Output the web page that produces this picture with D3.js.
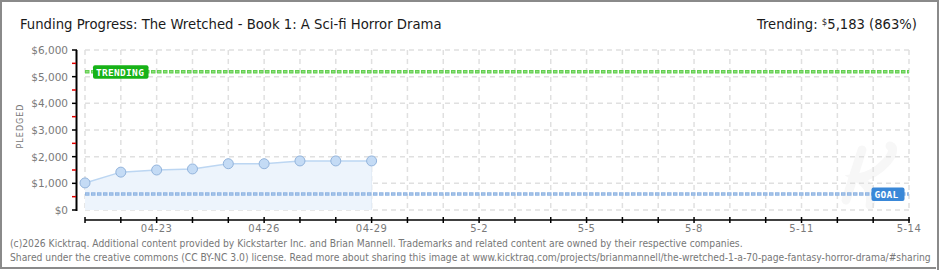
<!DOCTYPE html>
<html>
<head>
<meta charset="utf-8">
<script src="https://cdn.jsdelivr.net/npm/d3@7"></script>
<style>
  html, body { margin: 0; padding: 0; background: #fff; }
  svg { display: block; }
</style>
</head>
<body>
<svg id="chart" width="940" height="270"></svg>
<script>
// ---------- data ----------
const titleText = "Funding Progress: The Wretched - Book 1: A Sci-fi Horror Drama";
const trendingLabel = "Trending:";
const trendingValueText = "5,183 (863%)";
const dayLabels = ["04-21","04-22","04-23","04-24","04-25","04-26","04-27","04-28","04-29"];
const pledged = [1015, 1420, 1500, 1540, 1735, 1735, 1840, 1840, 1840];
const goal = 600;
const trending = 5183;
const domainStart = "04-21";
const domainEnd = "05-14";
const tickLabels = ["04-23","04-26","04-29","5-2","5-5","5-8","5-11","5-14"];
const tickDates = ["04-23","04-26","04-29","05-02","05-05","05-08","05-11","05-14"];
const yTicks = [0, 1000, 2000, 3000, 4000, 5000, 6000];
const yMinor = [500, 1500, 2500, 3500, 4500, 5500];
const footer1 = "(c)2026 Kicktraq. Additional content provided by Kickstarter Inc. and Brian Mannell. Trademarks and related content are owned by their respective companies.";
const footer2 = "Shared under the creative commons (CC BY-NC 3.0) license. Read more about sharing this image at www.kicktraq.com/projects/brianmannell/the-wretched-1-a-70-page-fantasy-horror-drama/#sharing";

// ---------- setup ----------
const svg = d3.select("#chart");
const parse = s => new Date(Date.UTC(2017, +s.slice(0,2) - 1, +s.slice(3,5)));
const x = d3.scaleUtc().domain([parse(domainStart), parse(domainEnd)]).range([85, 909]);
const y = d3.scaleLinear().domain([0, 6000]).range([210, 50]);
const allDays = d3.utcDay.range(parse(domainStart), d3.utcDay.offset(parse(domainEnd), 1));
const font = "'Liberation Sans Narrow', 'DejaVu Sans Condensed', 'DejaVu Sans', sans-serif";

// border
svg.append("rect").attr("x", 1).attr("y", 1).attr("width", 937).attr("height", 267)
  .attr("fill", "#fff").attr("stroke", "#8a8a8a").attr("stroke-width", 2);

// watermark (faint K drawn as strokes)
svg.append("path")
  .attr("d", "M862,150 L846,200 M890,146 C900,150 880,175 858,178 C870,185 872,195 870,205")
  .attr("fill", "none").attr("stroke", "#f7f7f7").attr("stroke-width", 9).attr("stroke-linecap", "round");

// grid
const grid = svg.append("g").attr("stroke", "#e0e0e0").attr("stroke-width", 1.5).attr("stroke-dasharray", "5,4");
grid.selectAll("line.h").data(yTicks).join("line")
  .attr("x1", x.range()[0]).attr("x2", x.range()[1])
  .attr("y1", d => y(d)).attr("y2", d => y(d));
grid.selectAll("line.v").data(allDays).join("line").attr("class", "v")
  .attr("x1", d => x(d)).attr("x2", d => x(d))
  .attr("y1", y(6000)).attr("y2", y(0));

// area + line
const pts = dayLabels.map((d, i) => ({ date: parse(d), v: pledged[i] }));
svg.append("path").datum(pts)
  .attr("fill", "#edf4fc")
  .attr("d", d3.area().x(d => x(d.date)).y0(y(0)).y1(d => y(d.v)));
svg.append("path").datum(pts)
  .attr("fill", "none").attr("stroke", "#bcd6f2").attr("stroke-width", 1.5)
  .attr("d", d3.line().x(d => x(d.date)).y(d => y(d.v)));
svg.append("line")
  .attr("x1", x(pts[pts.length-1].date)).attr("x2", x(pts[pts.length-1].date))
  .attr("y1", y(pts[pts.length-1].v)).attr("y2", y(0))
  .attr("stroke", "#e3ecf7").attr("stroke-width", 1);

// goal & trending lines
function refLine(val, col, light) {
  svg.append("line").attr("x1", x.range()[0]).attr("x2", x.range()[1])
    .attr("y1", y(val)).attr("y2", y(val))
    .attr("stroke", col).attr("stroke-width", 3.5).attr("stroke-dasharray", "4.5,1.5");
  svg.append("line").attr("x1", x.range()[0]).attr("x2", x.range()[1])
    .attr("y1", y(val)).attr("y2", y(val))
    .attr("stroke", light).attr("stroke-width", 1).attr("stroke-dasharray", "2.5,3.5")
    .attr("stroke-dashoffset", -1);
}
refLine(goal, "#8fb4e2", "#b5cfee");
refLine(trending, "#62cf4f", "#9fe393");

// points
svg.selectAll("circle.pt").data(pts).join("circle")
  .attr("cx", d => x(d.date)).attr("cy", d => y(d.v)).attr("r", 5)
  .attr("fill", "#c4dbf5").attr("stroke", "#93b4dc").attr("stroke-width", 1);

// labels on ref lines
function tag(cx0, cx1, val, fill, txt) {
  const yy = y(val);
  svg.append("rect").attr("x", cx0).attr("y", yy - 6.5).attr("width", cx1 - cx0).attr("height", 13.5)
    .attr("rx", 2).attr("fill", fill);
  svg.append("text").attr("x", cx0 + 3).attr("y", yy + 3.8)
    .attr("font-family", "'DejaVu Sans Mono', monospace").attr("font-weight", "bold")
    .attr("font-size", 9.5).attr("fill", "#fff").attr("letter-spacing", 0.3).text(txt);
}
tag(93, 148.5, trending, "#17b217", "TRENDING");
tag(871.5, 904.5, goal, "#3a88d8", "GOAL");

// y axis
const yAxisG = svg.append("g");
yAxisG.append("line").attr("x1", 76.5).attr("x2", 76.5).attr("y1", y(6000)).attr("y2", y(0) + 1)
  .attr("stroke", "#000").attr("stroke-width", 2);
yAxisG.selectAll("line.maj").data(yTicks).join("line").attr("class", "maj")
  .attr("x1", 72).attr("x2", 77).attr("y1", d => y(d)).attr("y2", d => y(d))
  .attr("stroke", "#000").attr("stroke-width", 1.5);
yAxisG.selectAll("line.min").data(yMinor).join("line").attr("class", "min")
  .attr("x1", 72).attr("x2", 76).attr("y1", d => y(d)).attr("y2", d => y(d))
  .attr("stroke", "#e00000").attr("stroke-width", 1.5);
yAxisG.selectAll("text").data(yTicks).join("text")
  .attr("x", 68).attr("y", d => y(d) + 4).attr("text-anchor", "end")
  .attr("font-family", "'DejaVu Sans', sans-serif").attr("font-size", 10.5).attr("fill", "#7a7a7a")
  .text(d => d3.format("$,")(d));
svg.append("text").attr("transform", "translate(23,126) rotate(-90)")
  .attr("text-anchor", "middle").attr("font-family", "'DejaVu Sans', sans-serif")
  .attr("font-size", 8).attr("letter-spacing", 1).attr("fill", "#777").text("PLEDGED");

// x axis
const xAxisG = svg.append("g");
xAxisG.append("line").attr("x1", x.range()[0]).attr("x2", x.range()[1] + 1).attr("y1", 220).attr("y2", 220)
  .attr("stroke", "#000").attr("stroke-width", 1.5);
xAxisG.selectAll("line.t").data(allDays).join("line").attr("class", "t")
  .attr("x1", d => x(d)).attr("x2", d => x(d)).attr("y1", 217).attr("y2", 223)
  .attr("stroke", "#000").attr("stroke-width", 1.5);
xAxisG.selectAll("text").data(tickDates).join("text")
  .attr("x", d => x(parse(d))).attr("y", 232)
  .attr("text-anchor", "middle").attr("font-family", "'DejaVu Sans', sans-serif")
  .attr("font-size", 10).attr("letter-spacing", 0.5).attr("fill", "#7a7a7a")
  .text((d, i) => tickLabels[i]);

// fit helper
function fit(sel, target) {
  const fs = +sel.attr("font-size");
  const w = sel.node().getComputedTextLength();
  sel.attr("font-size", fs * target / w);
}

// title
const title = svg.append("text").attr("x", 20).attr("y", 29)
  .attr("font-family", font).attr("font-size", 15).attr("fill", "#1a1a1a").text(titleText);
fit(title, 422);

// trending summary
const tr = svg.append("text").attr("x", 917).attr("y", 29).attr("text-anchor", "end")
  .attr("font-family", font).attr("font-size", 15).attr("fill", "#1a1a1a");
tr.append("tspan").text(trendingLabel + "  ");
tr.append("tspan").attr("font-size", "0.65em").attr("dy", -4).text("$");
tr.append("tspan").attr("dy", 4).text(trendingValueText);
fit(tr, 160);

// footer
const f1 = svg.append("text").attr("x", 10).attr("y", 246.5)
  .attr("font-family", font).attr("font-size", 10).attr("fill", "#777").text(footer1);
fit(f1, 733);
svg.append("text").attr("x", 10).attr("y", 260.5)
  .attr("font-family", font).attr("font-size", f1.attr("font-size")).attr("fill", "#777").text(footer2);
svg.append("rect").attr("x", 936).attr("y", 236).attr("width", 4).attr("height", 34).attr("fill", "#fff");
svg.append("line").attr("x1", 938).attr("x2", 938).attr("y1", 0).attr("y2", 270)
  .attr("stroke", "#8a8a8a").attr("stroke-width", 2);
</script>
</body>
</html>
